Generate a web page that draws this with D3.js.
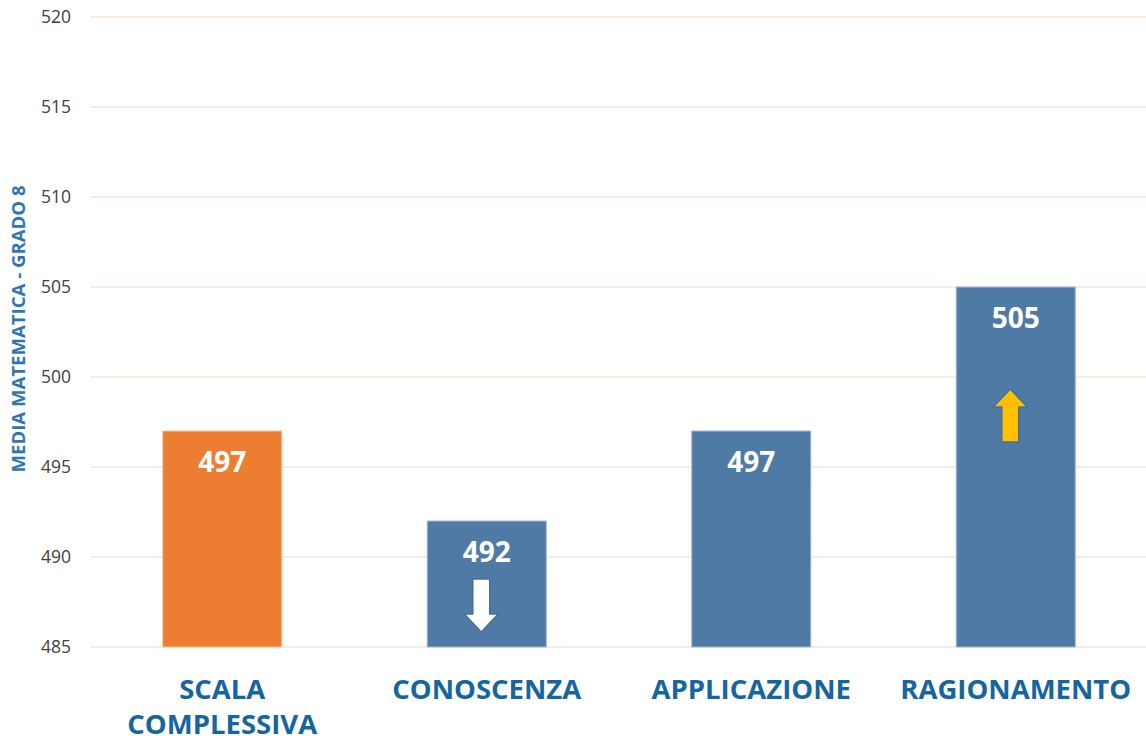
<!DOCTYPE html>
<html>
<head>
<meta charset="utf-8">
<script src="https://cdn.jsdelivr.net/npm/d3@7"></script>
<style>
  body { margin: 0; background: #fff; }
  svg { display: block; }
</style>
</head>
<body>
<div id="chart"></div>
<script>
// chart data
const categories = ["SCALA COMPLESSIVA", "CONOSCENZA", "APPLICAZIONE", "RAGIONAMENTO"];
const labelLines = [["SCALA", "COMPLESSIVA"], ["CONOSCENZA"], ["APPLICAZIONE"], ["RAGIONAMENTO"]];
const values = [497, 492, 497, 505];
const barColors = ["#ed7d31", "#4f7aa6", "#4f7aa6", "#4f7aa6"];
const arrows = [null, "down", null, "up"];
const yTicks = [485, 490, 495, 500, 505, 510, 515, 520];
const yTitle = "MEDIA MATEMATICA - GRADO 8";

const width = 1146, height = 742;
const font = "'Open Sans', 'Liberation Sans', sans-serif";

const svg = d3.select("#chart").append("svg")
    .attr("width", width).attr("height", height);

const x = d3.scaleBand()
    .domain(categories)
    .range([90, 1148])
    .paddingInner(0.55)
    .paddingOuter(0.275);

const y = d3.scaleLinear()
    .domain([485, 520])
    .range([647, 17]);

// gridlines
svg.append("g").selectAll("line").data(yTicks)
    .join("line")
    .attr("x1", 90).attr("x2", width)
    .attr("y1", d => y(d)).attr("y2", d => y(d))
    .attr("stroke", "#fbe4d5")
    .attr("stroke-width", 1.5);

// y axis labels
const yAxis = d3.axisLeft(y).tickValues(yTicks).tickSize(0).tickPadding(0);
svg.append("g")
    .attr("transform", "translate(71,0)")
    .call(yAxis)
    .call(g => g.select(".domain").remove())
    .call(g => g.selectAll("text")
        .attr("font-family", font)
        .attr("font-size", 17.5)
        .attr("fill", "#404040"));

// y title
svg.append("text")
    .attr("transform", "translate(25,329) rotate(-90)")
    .attr("text-anchor", "middle")
    .attr("font-family", font)
    .attr("font-weight", 700)
    .attr("font-size", 18.5)
    .attr("textLength", 287)
    .attr("lengthAdjust", "spacingAndGlyphs")
    .attr("fill", "#2e75b6")
    .text(yTitle);

// bars
svg.append("g").selectAll("rect").data(values)
    .join("rect")
    .attr("x", (d, i) => x(categories[i]))
    .attr("width", x.bandwidth())
    .attr("y", d => y(d))
    .attr("height", d => y(485) - y(d))
    .attr("fill", (d, i) => barColors[i])
    .attr("stroke", (d, i) => i === 0 ? "#f6c3a0" : "#9fb9d6")
    .attr("stroke-width", 1);

// value labels
svg.append("g").selectAll("text").data(values)
    .join("text")
    .attr("x", (d, i) => x(categories[i]) + x.bandwidth() / 2)
    .attr("y", d => y(d) + 41)
    .attr("text-anchor", "middle")
    .attr("font-family", font)
    .attr("font-weight", 700)
    .attr("font-size", 28)
    .attr("fill", "#ffffff")
    .text(d => d);

// arrows
function arrowPath(cx, top, bottom, dir) {
    const sw = 8.5, hw = 17, hl = 18;
    if (dir === "up") {
        return `M${cx},${top} L${cx + hw},${top + hl} L${cx + sw},${top + hl} L${cx + sw},${bottom}
                L${cx - sw},${bottom} L${cx - sw},${top + hl} L${cx - hw},${top + hl} Z`;
    }
    return `M${cx - sw},${top} L${cx + sw},${top} L${cx + sw},${bottom - hl} L${cx + hw},${bottom - hl}
            L${cx},${bottom} L${cx - hw},${bottom - hl} L${cx - sw},${bottom - hl} Z`;
}
arrows.forEach((a, i) => {
    if (!a) return;
    const cx = x(categories[i]) + x.bandwidth() / 2 - 5.5;
    const top = a === "up" ? y(values[i]) + 102 : y(values[i]) + 58;
    const bottom = top + 53;
    svg.append("path")
        .attr("d", arrowPath(cx, top, bottom, a))
        .attr("fill", a === "up" ? "#ffc000" : "#ffffff")
        .attr("stroke", "#41719c")
        .attr("stroke-width", 1.5)
        .attr("stroke-linejoin", "miter");
});

// category labels
const cat = svg.append("g").selectAll("text").data(categories)
    .join("text")
    .attr("x", d => x(d) + x.bandwidth() / 2)
    .attr("text-anchor", "middle")
    .attr("font-family", font)
    .attr("font-weight", 700)
    .attr("font-size", 27.5)
    .attr("fill", "#1565a0");
cat.each(function (d, i) {
    d3.select(this).selectAll("tspan").data(labelLines[i])
        .join("tspan")
        .attr("x", x(d) + x.bandwidth() / 2)
        .attr("y", (t, j) => 699 + j * 35)
        .text(t => t);
});
</script>
</body>
</html>
